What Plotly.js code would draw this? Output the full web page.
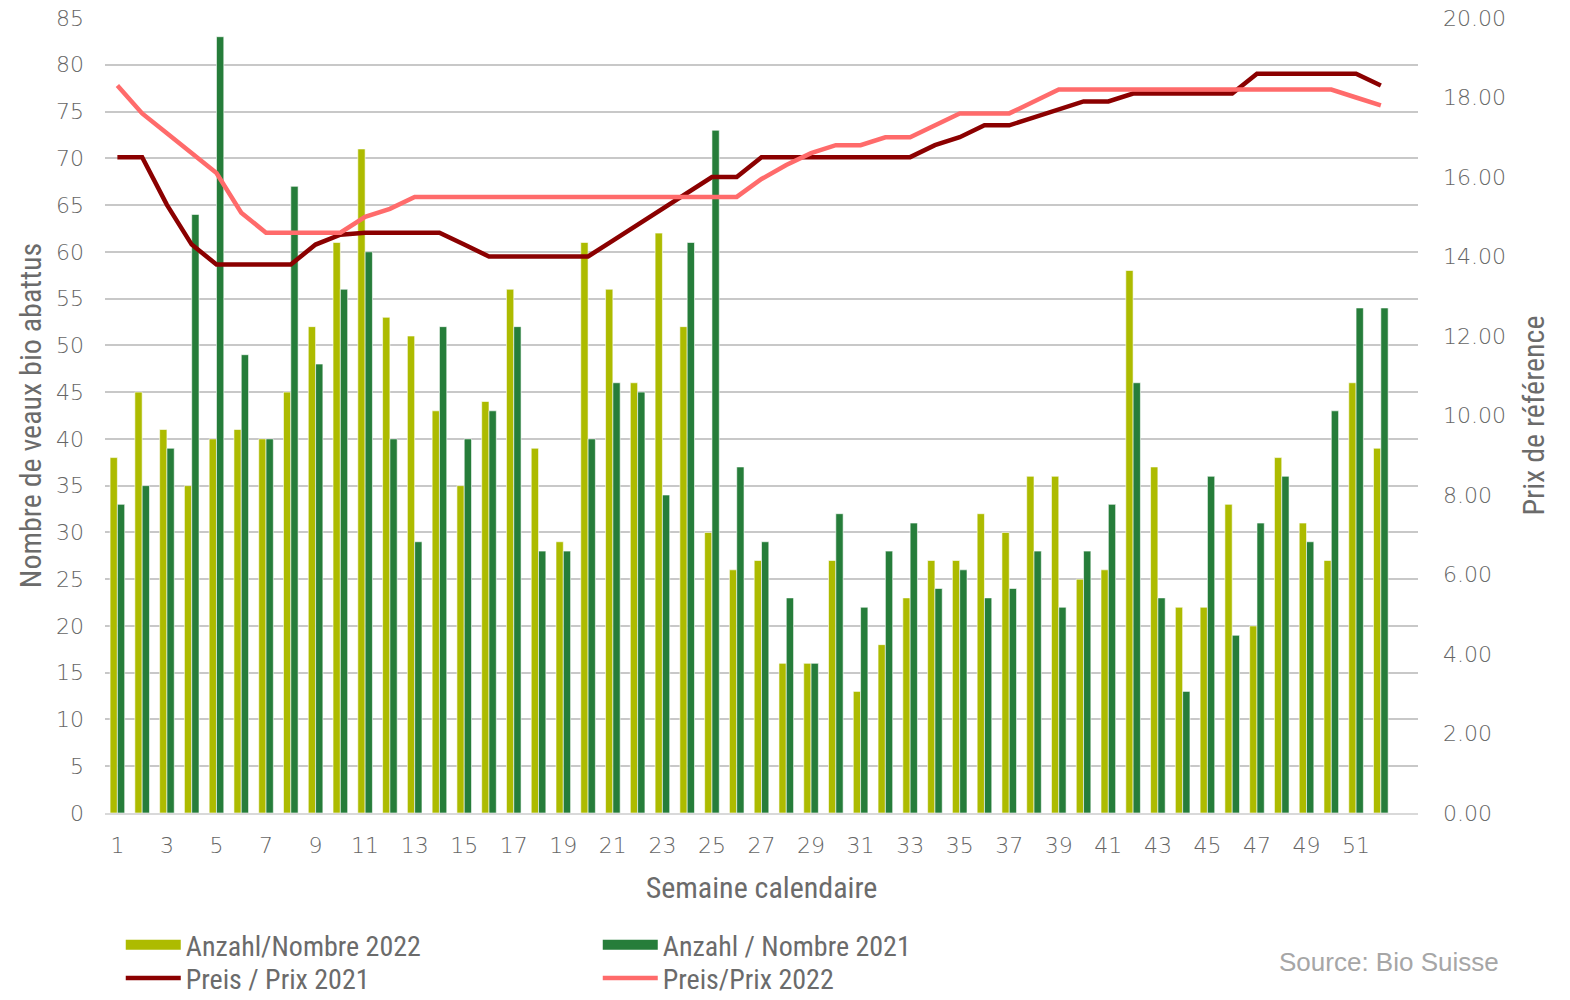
<!DOCTYPE html>
<html>
<head>
<meta charset="utf-8">
<script src="https://cdn.plot.ly/plotly-3.0.1.min.js"></script>
<style>html,body{margin:0;padding:0;background:#fff;}#chart{width:1570px;height:1000px;}</style>
</head>
<body>
<div id="chart"></div>
<script>
const weeks = Array.from({length: 52}, (_, i) => i + 1);
const count2022 = [38,45,41,35,40,41,40,45,52,61,71,53,51,43,35,44,56,39,29,61,56,46,62,52,30,26,27,16,16,27,13,18,23,27,27,32,30,36,36,25,26,58,37,22,22,33,20,38,31,27,46,39];
const count2021 = [33,35,39,64,83,49,40,67,48,56,60,40,29,52,40,43,52,28,28,40,46,45,34,61,73,37,29,23,16,32,22,28,31,24,26,23,24,28,22,28,33,46,23,13,36,19,31,36,29,43,54,54];
const price2021 = [16.5,16.5,15.3,14.3,13.8,13.8,13.8,13.8,14.3,14.55,14.6,14.6,14.6,14.6,14.3,14.0,14.0,14.0,14.0,14.0,14.4,14.8,15.2,15.6,16.0,16.0,16.5,16.5,16.5,16.5,16.5,16.5,16.5,16.8,17.0,17.3,17.3,17.5,17.7,17.9,17.9,18.1,18.1,18.1,18.1,18.1,18.6,18.6,18.6,18.6,18.6,18.3];
const price2022 = [18.3,17.6,17.1,16.6,16.1,15.1,14.6,14.6,14.6,14.6,15.0,15.2,15.5,15.5,15.5,15.5,15.5,15.5,15.5,15.5,15.5,15.5,15.5,15.5,15.5,15.5,15.95,16.3,16.6,16.8,16.8,17.0,17.0,17.3,17.6,17.6,17.6,17.9,18.2,18.2,18.2,18.2,18.2,18.2,18.2,18.2,18.2,18.2,18.2,18.2,18.0,17.8];
const xTicks = [1,3,5,7,9,11,13,15,17,19,21,23,25,27,29,31,33,35,37,39,41,43,45,47,49,51];
const rightTicks = [0,2,4,6,8,10,12,14,16,18,20];

const col2022 = '#adbb00', col2021 = '#267d3a', colP21 = '#8b0000', colP22 = '#ff6b6b';
const tickFont = {family: '"DejaVu Sans", sans-serif', size: 22, color: '#666666', weight: 300};
const narrow = '"Liberation Sans Narrow", "Roboto Condensed", "Arial Narrow", "Liberation Sans", sans-serif';
const titleFont = {family: narrow, size: 30, color: '#6b6b6b'};
const legFont = {family: narrow, size: 28, color: '#6b6b6b'};

const traces = [
  {type: 'bar', name: 'Anzahl/Nombre 2022', x: weeks, y: count2022, marker: {color: col2022, line: {color: '#ffffff', width: 0.6}}, yaxis: 'y', showlegend: false},
  {type: 'bar', name: 'Anzahl / Nombre 2021', x: weeks, y: count2021, marker: {color: col2021, line: {color: '#ffffff', width: 0.6}}, yaxis: 'y', showlegend: false},
  {type: 'scatter', mode: 'lines', name: 'Preis / Prix 2021', x: weeks, y: price2021, line: {color: colP21, width: 4.5}, yaxis: 'y2', legend: 'legend2'},
  {type: 'scatter', mode: 'lines', name: 'Preis/Prix 2022', x: weeks, y: price2022, line: {color: colP22, width: 4.5}, yaxis: 'y2', legend: 'legend2'},
  {type: 'scatter', mode: 'lines', name: 'Anzahl/Nombre 2022', x: [null], y: [null], line: {color: col2022, width: 18}, yaxis: 'y', legend: 'legend'},
  {type: 'scatter', mode: 'lines', name: 'Anzahl / Nombre 2021', x: [null], y: [null], line: {color: col2021, width: 18}, yaxis: 'y', legend: 'legend'}
];

const legBase = {orientation: 'h', xanchor: 'left', yanchor: 'middle', entrywidth: 407, entrywidthmode: 'pixels',
                 itemwidth: 55, font: legFont, traceorder: 'normal', bgcolor: 'rgba(0,0,0,0)'};

const layout = {
  width: 1570, height: 1000,
  margin: {l: 105, r: 152, t: 18, b: 187, autoexpand: false},
  paper_bgcolor: '#ffffff', plot_bgcolor: '#ffffff',
  barmode: 'group', bargap: 0.41, bargroupgap: 0,
  showlegend: true,
  legend: Object.assign({x: 0.012, y: -0.166}, legBase),
  legend2: Object.assign({x: 0.012, y: -0.208}, legBase),
  xaxis: {range: [0.5, 53.5], tickmode: 'array', tickvals: xTicks, ticktext: xTicks.map(String),
          tickfont: tickFont, showgrid: false, zeroline: false, showline: true, linecolor: '#d9d9d9', linewidth: 2,
          ticks: '', ticklabelstandoff: 12,
          title: {text: 'Semaine calendaire', font: titleFont, standoff: 20}},
  yaxis: {range: [0, 85], dtick: 5, tick0: 0, tickfont: tickFont, showgrid: true, gridcolor: '#c8c8c8', gridwidth: 2,
          zeroline: false, showline: false, ticks: '', ticklabelstandoff: 20,
          title: {text: 'Nombre de veaux bio abattus', font: titleFont, standoff: 5}},
  yaxis2: {range: [0, 20], overlaying: 'y', side: 'right', tickmode: 'array', tickvals: rightTicks,
           ticktext: rightTicks.map(v => v.toFixed(2)), tickfont: tickFont, showgrid: false, zeroline: false,
           showline: false, ticks: '', ticklabelstandoff: 24,
           title: {text: 'Prix de référence', font: titleFont, standoff: 18}},
  annotations: [
    {text: 'Source: Bio Suisse', xref: 'paper', yref: 'paper', x: 1.0635, y: -0.187, xanchor: 'right', yanchor: 'middle',
     showarrow: false, font: {family: '"Liberation Sans", Arial, sans-serif', size: 26, color: '#a6a6a6'}}
  ]
};

Plotly.newPlot('chart', traces, layout, {displayModeBar: false, staticPlot: true});
</script>
</body>
</html>
